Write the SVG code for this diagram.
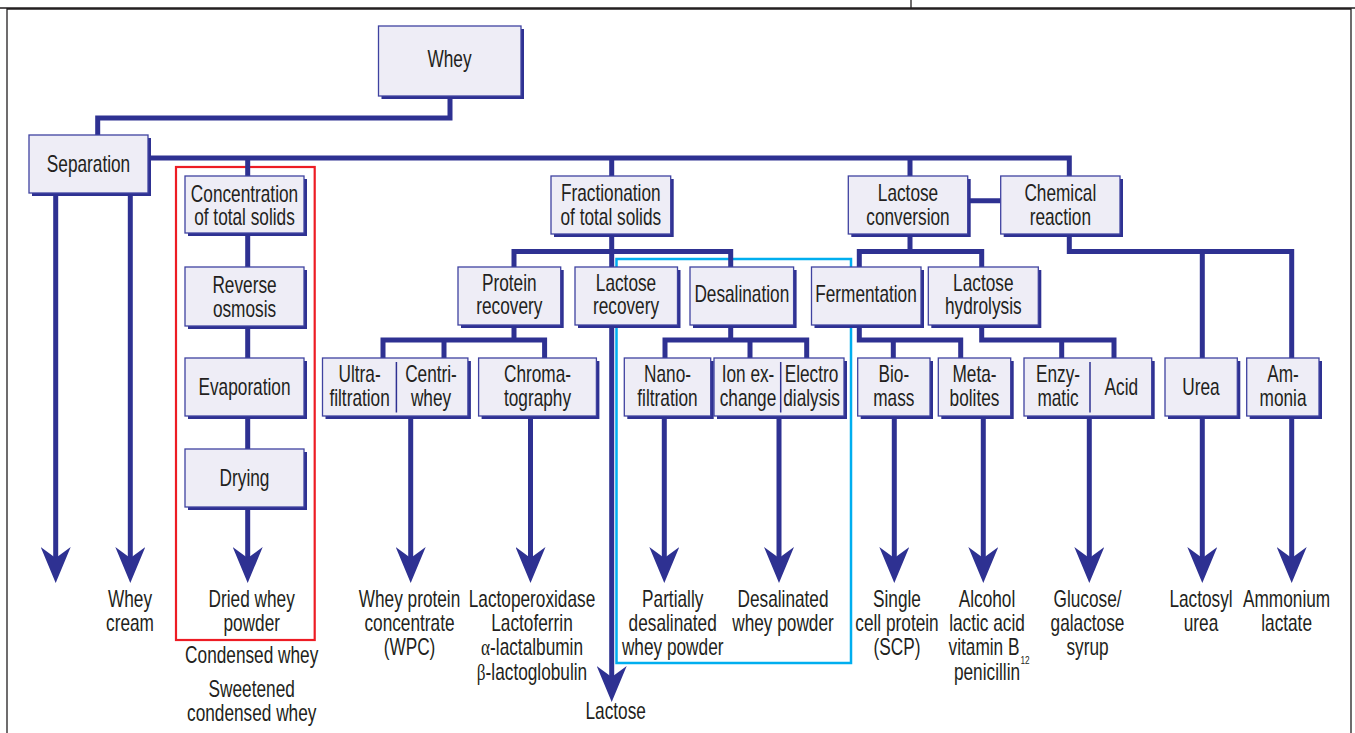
<svg xmlns="http://www.w3.org/2000/svg" width="1355" height="733" viewBox="0 0 1355 733">
<style>
.bg{fill:#ffffff}
.frame{fill:none;stroke:#231F20;stroke-width:1.3}
.sh{fill:#2E3192}
.bx{fill:#EEEDF6;stroke:#3F42A0;stroke-width:1.3}
.dv{stroke:#2E3192;stroke-width:1.5}
.cn{fill:none;stroke:#2E3192;stroke-width:5;stroke-linejoin:miter;stroke-linecap:butt}
.ar{fill:none;stroke:#2E3192;stroke-width:5;marker-end:url(#ah)}
.red{fill:none;stroke:#ED1C24;stroke-width:2.2}
.cyan{fill:none;stroke:#00AEEF;stroke-width:2.5}
text{font-family:"Liberation Sans",Arial,sans-serif;font-size:23px;fill:#231F20;text-anchor:middle}
.gr{font-family:"Liberation Serif","Times New Roman",serif}
.sub{font-size:11px}
</style>
<defs>
<marker id="ah" viewBox="0 0 36 30" markerWidth="36" markerHeight="30" markerUnits="userSpaceOnUse" refX="18" refY="15" orient="auto">
<path d="M0,0 L36,15 L0,30 L11,15 Z" fill="#2E3192"/>
</marker>
</defs>
<rect class="bg" x="0" y="0" width="1355" height="733"/>
<g id="frame">
<path class="frame" d="M0,8 H1355 M911,0 V8 M7,740 V9 H1351 V740"/>
</g>
<g id="highlights">
<rect class="red" x="176" y="167" width="138.7" height="473"/>
<rect class="cyan" x="616.5" y="259" width="234.5" height="404"/>
</g>
<g id="connectors">
<path class="cn" d="M450,96 V118 H97.7 V135"/>
<path class="cn" d="M148,158 H1069.3 V176 M247.7,158 V176 M611.7,158 V176 M910,158 V176"/>
<path class="cn" d="M967.7,200.7 H1000.7"/>
<path class="cn" d="M247.7,233 V267 M247.7,326 V358 M247.7,416 V449"/>
<path class="cn" d="M611.7,234 V267 M514,267 V251.5 H730.7 V267"/>
<path class="cn" d="M910,234 V251.5 M859.3,267 V251.5 H981.7 V267"/>
<path class="cn" d="M1069.3,234 V251.5 H1291.7 V358 M1202.3,251.5 V358"/>
<path class="cn" d="M514,325 V340 M383,358 V340 H544.6 V358 M444,340 V358"/>
<path class="cn" d="M730.7,325 V340 M665,358 V340 H806.7 V358 M750,340 V358"/>
<path class="cn" d="M859.3,325 V340 H960.7 V358 M893.3,340 V358"/>
<path class="cn" d="M981.7,325 V340 H1114 V358 M1061.7,340 V358"/>
<path class="ar" d="M55.7,193 V565"/>
<path class="ar" d="M130.3,193 V565"/>
<path class="ar" d="M247.7,507 V565"/>
<path class="ar" d="M410.7,416 V565"/>
<path class="ar" d="M530.5,416 V565"/>
<path class="ar" d="M611.7,325 V684"/>
<path class="ar" d="M664.3,416 V565"/>
<path class="ar" d="M779,416 V565"/>
<path class="ar" d="M894.3,416 V565"/>
<path class="ar" d="M983.3,416 V565"/>
<path class="ar" d="M1089.3,416 V565"/>
<path class="ar" d="M1202.3,416 V565"/>
<path class="ar" d="M1291.7,416 V565"/>
</g>
<g id="n-whey"><rect class="sh" x="381.5" y="29" width="142.5" height="70"/><rect class="bx" x="378.5" y="26" width="142.5" height="70"/><text transform="translate(449.5 0) scale(.75 1)" y="66.7">Whey</text></g>
<g id="n-separation"><rect class="sh" x="32" y="138" width="119" height="58"/><rect class="bx" x="29" y="135" width="119" height="58"/><text transform="translate(88.5 0) scale(.75 1)" y="172.3">Separation</text></g>
<g id="n-concentration"><rect class="sh" x="188" y="179" width="119" height="57"/><rect class="bx" x="185" y="176" width="119" height="57"/><text transform="translate(244.5 0) scale(.75 1)"><tspan x="0" y="201.7">Concentration</tspan><tspan x="0" y="225">of total solids</tspan></text></g>
<g id="n-reverse"><rect class="sh" x="188" y="270" width="119" height="59"/><rect class="bx" x="185" y="267" width="119" height="59"/><text transform="translate(244.5 0) scale(.75 1)"><tspan x="0" y="293.3">Reverse</tspan><tspan x="0" y="317.3">osmosis</tspan></text></g>
<g id="n-evaporation"><rect class="sh" x="188" y="361" width="119" height="58"/><rect class="bx" x="185" y="358" width="119" height="58"/><text transform="translate(244.5 0) scale(.75 1)" y="395">Evaporation</text></g>
<g id="n-drying"><rect class="sh" x="188" y="452" width="119" height="58"/><rect class="bx" x="185" y="449" width="119" height="58"/><text transform="translate(244.5 0) scale(.75 1)" y="486">Drying</text></g>
<g id="n-fractionation"><rect class="sh" x="554" y="179" width="119.7" height="58"/><rect class="bx" x="551" y="176" width="119.7" height="58"/><text transform="translate(610.8 0) scale(.75 1)"><tspan x="0" y="201">Fractionation</tspan><tspan x="0" y="225">of total solids</tspan></text></g>
<g id="n-lactoseconv"><rect class="sh" x="851.3" y="179" width="119.4" height="58"/><rect class="bx" x="848.3" y="176" width="119.4" height="58"/><text transform="translate(908 0) scale(.75 1)"><tspan x="0" y="201">Lactose</tspan><tspan x="0" y="225">conversion</tspan></text></g>
<g id="n-chemical"><rect class="sh" x="1003.7" y="179" width="119.3" height="58"/><rect class="bx" x="1000.7" y="176" width="119.3" height="58"/><text transform="translate(1060.3 0) scale(.75 1)"><tspan x="0" y="201">Chemical</tspan><tspan x="0" y="225">reaction</tspan></text></g>
<g id="n-protein"><rect class="sh" x="461" y="270" width="102.7" height="58"/><rect class="bx" x="458" y="267" width="102.7" height="58"/><text transform="translate(509.3 0) scale(.75 1)"><tspan x="0" y="290.7">Protein</tspan><tspan x="0" y="314.3">recovery</tspan></text></g>
<g id="n-lactoserec"><rect class="sh" x="578" y="270" width="102.5" height="58"/><rect class="bx" x="575" y="267" width="102.5" height="58"/><text transform="translate(626 0) scale(.75 1)"><tspan x="0" y="290.7">Lactose</tspan><tspan x="0" y="314.3">recovery</tspan></text></g>
<g id="n-desalination"><rect class="sh" x="693" y="270" width="103.6" height="58"/><rect class="bx" x="690" y="267" width="103.6" height="58"/><text transform="translate(741.8 0) scale(.75 1)" y="301.7">Desalination</text></g>
<g id="n-fermentation"><rect class="sh" x="814.5" y="270" width="109.5" height="58"/><rect class="bx" x="811.5" y="267" width="109.5" height="58"/><text transform="translate(866 0) scale(.75 1)" y="301.7">Fermentation</text></g>
<g id="n-hydrolysis"><rect class="sh" x="931.3" y="270" width="110" height="58"/><rect class="bx" x="928.3" y="267" width="110" height="58"/><text transform="translate(983.3 0) scale(.75 1)"><tspan x="0" y="290.7">Lactose</tspan><tspan x="0" y="314.3">hydrolysis</tspan></text></g>
<g id="n-ultra-centri"><rect class="sh" x="325.5" y="361" width="145.4" height="58"/><rect class="bx" x="322.5" y="358" width="145.4" height="58"/><line class="dv" x1="396.4" y1="362" x2="396.4" y2="412.5"/><text transform="translate(359.6 0) scale(.75 1)"><tspan x="0" y="381.7">Ultra-</tspan><tspan x="0" y="406.3">filtration</tspan></text><text transform="translate(431 0) scale(.75 1)"><tspan x="0" y="381.7">Centri-</tspan><tspan x="0" y="406.3">whey</tspan></text></g>
<g id="n-chroma"><rect class="sh" x="481.6" y="361" width="117.8" height="58"/><rect class="bx" x="478.6" y="358" width="117.8" height="58"/><text transform="translate(537.5 0) scale(.75 1)"><tspan x="0" y="381.7">Chroma-</tspan><tspan x="0" y="406.3">tography</tspan></text></g>
<g id="n-nano"><rect class="sh" x="627.3" y="361" width="86.4" height="58"/><rect class="bx" x="624.3" y="358" width="86.4" height="58"/><text transform="translate(667.5 0) scale(.75 1)"><tspan x="0" y="381.7">Nano-</tspan><tspan x="0" y="406.3">filtration</tspan></text></g>
<g id="n-ion-electro"><rect class="sh" x="717" y="361" width="130" height="58"/><rect class="bx" x="714" y="358" width="130" height="58"/><line class="dv" x1="780.7" y1="362" x2="780.7" y2="412.5"/><text transform="translate(748 0) scale(.75 1)"><tspan x="0" y="381.7">Ion ex-</tspan><tspan x="0" y="406.3">change</tspan></text><text transform="translate(811.5 0) scale(.75 1)"><tspan x="0" y="381.7">Electro</tspan><tspan x="0" y="406.3">dialysis</tspan></text></g>
<g id="n-biomass"><rect class="sh" x="860.7" y="361" width="72.3" height="58"/><rect class="bx" x="857.7" y="358" width="72.3" height="58"/><text transform="translate(893.8 0) scale(.75 1)"><tspan x="0" y="381.7">Bio-</tspan><tspan x="0" y="406.3">mass</tspan></text></g>
<g id="n-metabolites"><rect class="sh" x="941.3" y="361" width="72.4" height="58"/><rect class="bx" x="938.3" y="358" width="72.4" height="58"/><text transform="translate(974.5 0) scale(.75 1)"><tspan x="0" y="381.7">Meta-</tspan><tspan x="0" y="406.3">bolites</tspan></text></g>
<g id="n-enzy-acid"><rect class="sh" x="1027" y="361" width="127.7" height="58"/><rect class="bx" x="1024" y="358" width="127.7" height="58"/><line class="dv" x1="1090" y1="362" x2="1090" y2="412.5"/><text transform="translate(1058 0) scale(.75 1)"><tspan x="0" y="381.7">Enzy-</tspan><tspan x="0" y="406.3">matic</tspan></text><text transform="translate(1121.3 0) scale(.75 1)" y="395.5">Acid</text></g>
<g id="n-urea"><rect class="sh" x="1168" y="361" width="72.3" height="58"/><rect class="bx" x="1165" y="358" width="72.3" height="58"/><text transform="translate(1201 0) scale(.75 1)" y="395.5">Urea</text></g>
<g id="n-ammonia"><rect class="sh" x="1249.7" y="361" width="72.3" height="58"/><rect class="bx" x="1246.7" y="358" width="72.3" height="58"/><text transform="translate(1283 0) scale(.75 1)"><tspan x="0" y="381.7">Am-</tspan><tspan x="0" y="406.3">monia</tspan></text></g>
<g id="products">
<text transform="translate(130 0) scale(.75 1)"><tspan x="0" y="606.7">Whey</tspan><tspan x="0" y="631.3">cream</tspan></text>
<text transform="translate(251.7 0) scale(.75 1)"><tspan x="0" y="606.7">Dried whey</tspan><tspan x="0" y="631.3">powder</tspan></text>
<text transform="translate(251.7 0) scale(.75 1)" y="663.3">Condensed whey</text>
<text transform="translate(251.7 0) scale(.75 1)"><tspan x="0" y="696.7">Sweetened</tspan><tspan x="0" y="720.7">condensed whey</tspan></text>
<text transform="translate(409.5 0) scale(.75 1)"><tspan x="0" y="606.7">Whey protein</tspan><tspan x="0" y="631.3">concentrate</tspan><tspan x="0" y="655.5">(WPC)</tspan></text>
<text transform="translate(532 0) scale(.75 1)"><tspan x="0" y="606.7">Lactoperoxidase</tspan><tspan x="0" y="631.3">Lactoferrin</tspan><tspan x="0" y="655.5"><tspan class="gr">α</tspan>-lactalbumin</tspan><tspan x="0" y="680"><tspan class="gr">β</tspan>-lactoglobulin</tspan></text>
<text transform="translate(615.7 0) scale(.75 1)" y="719">Lactose</text>
<text transform="translate(672.7 0) scale(.75 1)"><tspan x="0" y="606.7">Partially</tspan><tspan x="0" y="631.3">desalinated</tspan><tspan x="0" y="655.5">whey powder</tspan></text>
<text transform="translate(783 0) scale(.75 1)"><tspan x="0" y="606.7">Desalinated</tspan><tspan x="0" y="631.3">whey powder</tspan></text>
<text transform="translate(897 0) scale(.75 1)"><tspan x="0" y="606.7">Single</tspan><tspan x="0" y="631.3">cell protein</tspan><tspan x="0" y="655.5">(SCP)</tspan></text>
<text transform="translate(987 0) scale(.75 1)"><tspan x="0" y="606.7">Alcohol</tspan><tspan x="0" y="631.3">lactic acid</tspan><tspan x="-4" y="655.5">vitamin B</tspan><tspan x="0" y="680">penicillin</tspan></text>
<text class="sub" transform="translate(1025 0) scale(.75 1)" y="664">12</text>
<text transform="translate(1087.5 0) scale(.75 1)"><tspan x="0" y="606.7">Glucose/</tspan><tspan x="0" y="631.3">galactose</tspan><tspan x="0" y="655.5">syrup</tspan></text>
<text transform="translate(1201 0) scale(.75 1)"><tspan x="0" y="606.7">Lactosyl</tspan><tspan x="0" y="631.3">urea</tspan></text>
<text transform="translate(1286.6 0) scale(.75 1)"><tspan x="0" y="606.7">Ammonium</tspan><tspan x="0" y="631.3">lactate</tspan></text>
</g>
</svg>
